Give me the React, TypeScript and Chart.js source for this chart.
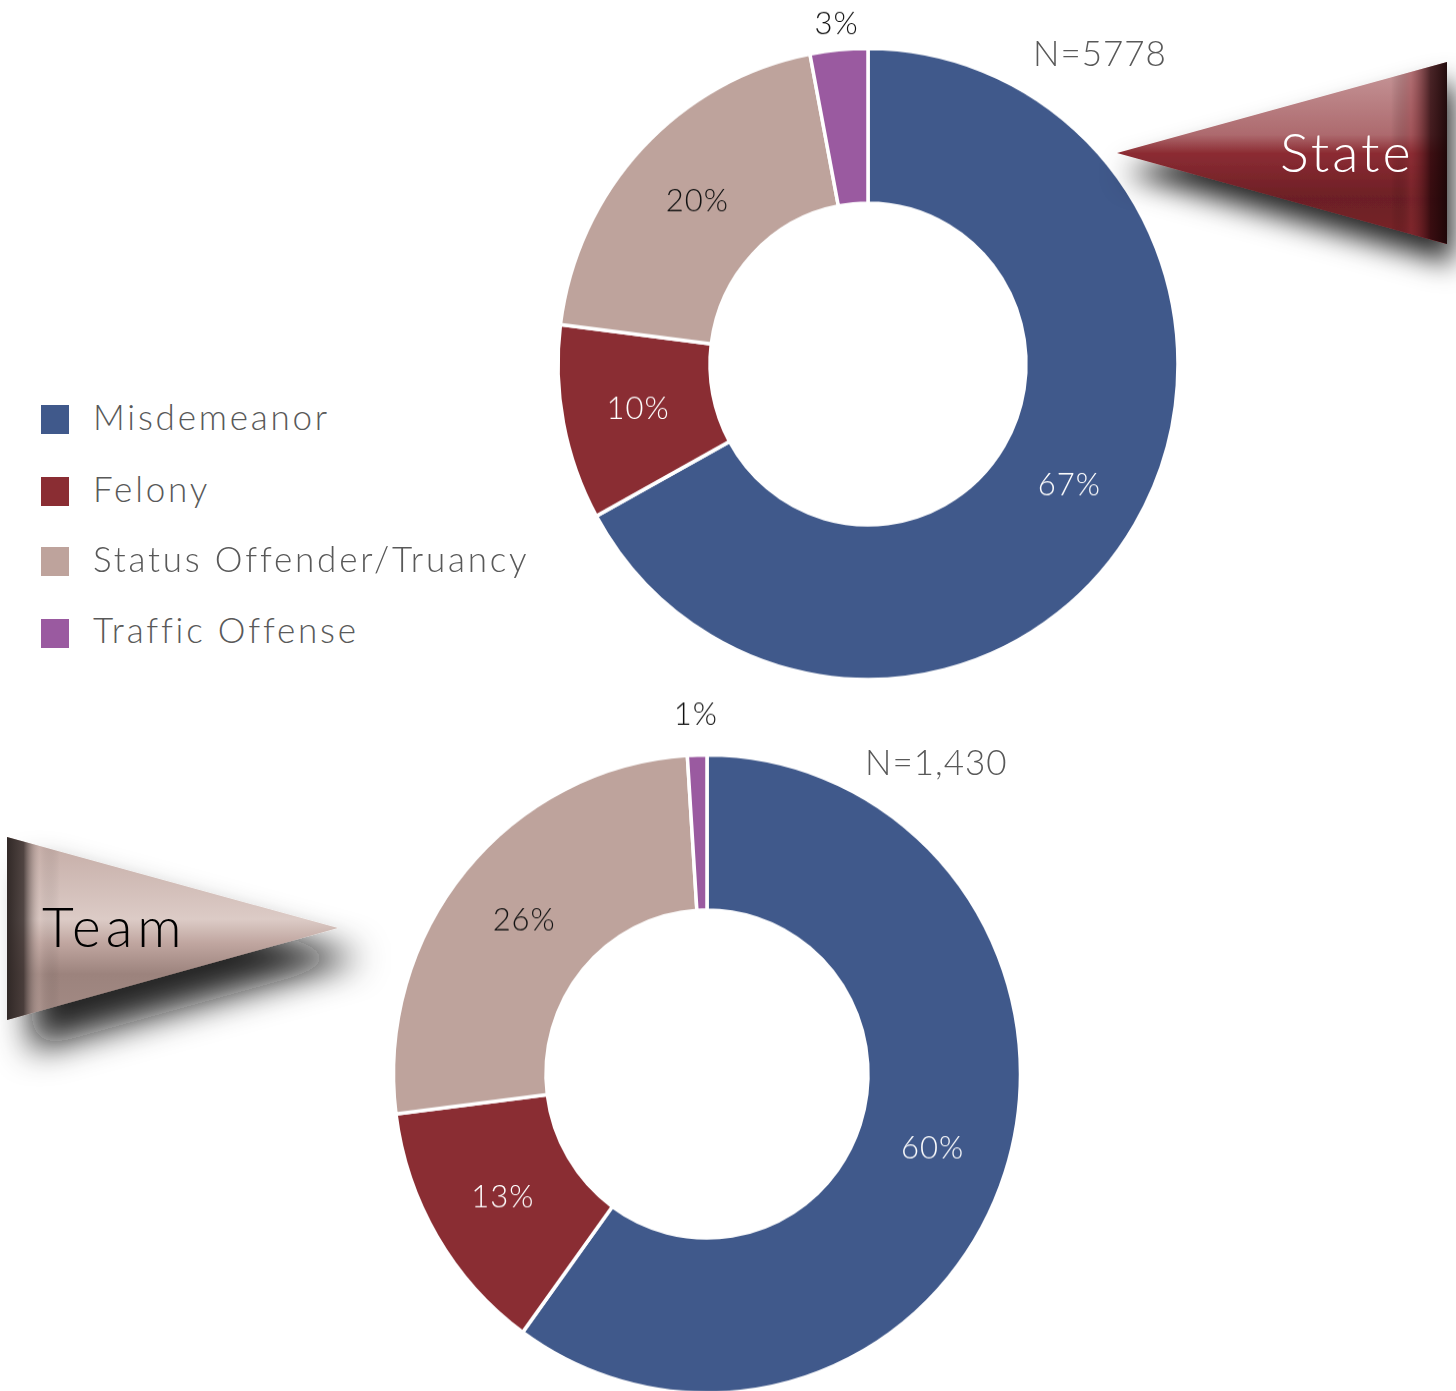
import React, { useEffect, useRef } from "react";
import { Chart, registerables } from "chart.js";
Chart.register(...registerables);

const categories = ["Misdemeanor", "Felony", "Status Offender/Truancy", "Traffic Offense"];
const stateValues = [67, 10, 20, 3];
const teamValues = [60, 13, 26, 1];
const stateN = "N=5778";
const teamN = "N=1,430";
const sliceColors = ["#40598b", "#8a2d33", "#bea39c", "#9a5aa0"];
const insideLabelColors = ["#ffffff", "#ffffff", "#111111", "#111111"];

const FONT = "Lato, 'Open Sans', sans-serif";

const pctLabels = {
  id: "pctLabels",
  afterDatasetsDraw(chart: any, _args: any, opts: any) {
    const ctx = chart.ctx;
    const meta = chart.getDatasetMeta(0);
    const ds = chart.data.datasets[0];
    ctx.save();
    ctx.font = opts.font;
    try {
      (ctx as any).letterSpacing = "1px";
    } catch (e) {}
    ctx.textAlign = "center";
    ctx.textBaseline = "middle";
    meta.data.forEach((arc: any, i: number) => {
      const p = arc.getProps(["startAngle", "endAngle", "innerRadius", "outerRadius", "x", "y"], true);
      const mid = (p.startAngle + p.endAngle) / 2;
      const v = ds.data[i];
      const outside = v < opts.minInside;
      const r = outside ? p.outerRadius + opts.outsideOffset : (p.innerRadius + p.outerRadius) / 2;
      ctx.fillStyle = outside ? "#111111" : opts.colors[i];
      ctx.fillText(v + "%", p.x + Math.cos(mid) * r, p.y + Math.sin(mid) * r);
    });
    ctx.restore();
  },
};

type DonutProps = {
  values: number[];
  cx: number;
  cy: number;
  radius: number;
  inner: number;
  outsideOffset: number;
};

const SIZE = 800;
const SCALE_Y = 1.018;

function Donut({ values, cx, cy, radius, inner, outsideOffset }: DonutProps) {
  const ref = useRef<HTMLCanvasElement | null>(null);
  useEffect(() => {
    if (!ref.current) return;
    const chart = new Chart(ref.current, {
      type: "doughnut",
      data: {
        labels: categories,
        datasets: [
          {
            data: values,
            backgroundColor: sliceColors,
            borderColor: "#ffffff",
            borderWidth: 3.5,
            hoverOffset: 0,
          },
        ],
      },
      options: {
        responsive: false,
        animation: false,
        radius: radius,
        cutout: (inner / radius) * 100 + "%",
        layout: { padding: 0 },
        plugins: {
          legend: { display: false },
          tooltip: { enabled: false },
          pctLabels: {
            font: "300 31px " + FONT,
            colors: insideLabelColors,
            minInside: 5,
            outsideOffset,
          },
        } as any,
      },
      plugins: [pctLabels as any],
    });
    return () => chart.destroy();
  }, []);
  return (
    <div
      style={{
        position: "absolute",
        left: cx - SIZE / 2,
        top: cy - SIZE / 2,
        width: SIZE,
        height: SIZE,
        transform: `scaleY(${SCALE_Y})`,
        transformOrigin: "50% 50%",
      }}
    >
      <canvas ref={ref} width={SIZE} height={SIZE} style={{ width: SIZE, height: SIZE }} />
    </div>
  );
}

function Arrows() {
  return (
    <svg
      width={1456}
      height={1391}
      style={{ position: "absolute", left: 0, top: 0, pointerEvents: "none" }}
    >
      <defs>
        <linearGradient id="stateV" gradientUnits="userSpaceOnUse" x1="0" y1="62" x2="0" y2="244">
          <stop offset="0" stopColor="#c89a9c" />
          <stop offset="0.4" stopColor="#ad6a6e" />
          <stop offset="0.5" stopColor="#8c2c33" />
          <stop offset="0.75" stopColor="#6c1f25" />
          <stop offset="1" stopColor="#7a232a" />
        </linearGradient>
        <linearGradient id="stateH" gradientUnits="userSpaceOnUse" x1="1117" y1="0" x2="1447" y2="0">
          <stop offset="0" stopColor="#000" stopOpacity="0" />
          <stop offset="0.83" stopColor="#000" stopOpacity="0" />
          <stop offset="0.89" stopColor="#8c2c33" stopOpacity="0.35" />
          <stop offset="0.95" stopColor="#2a080b" stopOpacity="0.8" />
          <stop offset="1" stopColor="#1a0506" stopOpacity="0.95" />
        </linearGradient>
        <linearGradient id="teamV" gradientUnits="userSpaceOnUse" x1="0" y1="837" x2="0" y2="1020">
          <stop offset="0" stopColor="#c4aba5" />
          <stop offset="0.45" stopColor="#dccbc6" />
          <stop offset="0.58" stopColor="#c0a6a0" />
          <stop offset="0.75" stopColor="#9c837d" />
          <stop offset="1" stopColor="#a38b85" />
        </linearGradient>
        <linearGradient id="teamH" gradientUnits="userSpaceOnUse" x1="7" y1="0" x2="338" y2="0">
          <stop offset="0" stopColor="#2e2624" stopOpacity="0.98" />
          <stop offset="0.05" stopColor="#3a302e" stopOpacity="0.85" />
          <stop offset="0.1" stopColor="#c9b3ad" stopOpacity="0.2" />
          <stop offset="0.16" stopColor="#000" stopOpacity="0" />
          <stop offset="1" stopColor="#000" stopOpacity="0" />
        </linearGradient>
        <filter id="stateShadow" x="-30%" y="-40%" width="160%" height="200%">
          <feDropShadow dx="6" dy="20" stdDeviation="14" floodColor="#000" floodOpacity="0.85" />
        </filter>
        <filter id="teamShadow" x="-30%" y="-40%" width="170%" height="210%">
          <feDropShadow dx="24" dy="30" stdDeviation="17" floodColor="#111" floodOpacity="0.9" />
        </filter>
      </defs>
      <g filter="url(#stateShadow)">
        <polygon points="1117,153 1447,62 1447,244" fill="url(#stateV)" />
      </g>
      <polygon points="1117,153 1447,62 1447,244" fill="url(#stateH)" />
      <text x={1280} y={172} fill="#ffffff" fontFamily={FONT} fontWeight={300} fontSize={54} letterSpacing={3}>
        State
      </text>
      <g filter="url(#teamShadow)">
        <polygon points="7,837 338,928 7,1020" fill="url(#teamV)" />
      </g>
      <polygon points="7,837 338,928 7,1020" fill="url(#teamH)" />
      <text x={42} y={947} fill="#000000" fontFamily={FONT} fontWeight={300} fontSize={55} letterSpacing={5}>
        Team
      </text>
    </svg>
  );
}

function Legend() {
  const rowsY = [419.5, 491.5, 561.5, 633];
  return (
    <>
      {categories.map((c, i) => (
        <div key={c}>
          <div
            style={{
              position: "absolute",
              left: 41,
              top: rowsY[i] - 14.5,
              width: 28,
              height: 29,
              background: sliceColors[i],
            }}
          />
          <div
            style={{
              position: "absolute",
              left: 93,
              top: rowsY[i] - 28,
              height: 48,
              lineHeight: "48px",
              fontFamily: FONT,
              fontWeight: 300,
              fontSize: 35,
              color: "#595959",
              whiteSpace: "nowrap",
              letterSpacing: 2.8,
            }}
          >
            {c}
          </div>
        </div>
      ))}
    </>
  );
}

function NLabel({ text, x, y }: { text: string; x: number; y: number }) {
  return (
    <div
      style={{
        position: "absolute",
        left: x,
        top: y - 26,
        height: 48,
        lineHeight: "48px",
        fontFamily: FONT,
        fontWeight: 300,
        fontSize: 35,
        color: "#595959",
        whiteSpace: "nowrap",
        letterSpacing: 1,
      }}
    >
      {text}
    </div>
  );
}

export default function App() {
  return (
    <div
      style={{
        position: "absolute",
        left: 0,
        top: 0,
        width: 1456,
        height: 1391,
        overflow: "hidden",
        background: "#ffffff",
      }}
    >
      <Donut values={stateValues} cx={867.5} cy={363.5} radius={310} inner={158} outsideOffset={25} />
      <Donut values={teamValues} cx={706.5} cy={1074} radius={313.5} inner={161} outsideOffset={40} />
      <Legend />
      <NLabel text={stateN} x={1033} y={54} />
      <NLabel text={teamN} x={865} y={763} />
      <Arrows />
    </div>
  );
}
